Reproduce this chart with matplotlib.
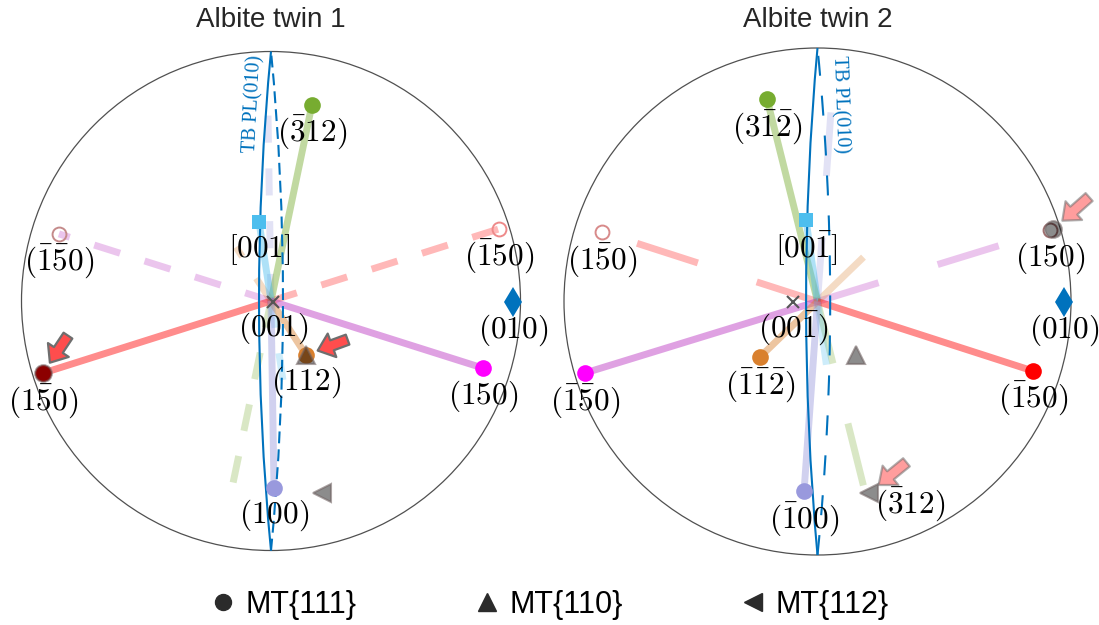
import matplotlib.pyplot as plt
import numpy as np
from matplotlib.lines import Line2D
from matplotlib.patches import Arc, Circle

plt.rcParams['mathtext.fontset'] = 'cm'
plt.rcParams['font.family'] = ['Liberation Sans', 'DejaVu Sans']

W, H = 1099, 625

# pole colours shared by both twins (same order as the pole lists)
pole_colors = ['#77ac30', '#4dbeee', '#ff0000', '#ff00ff', '#d9802e', '#9999dd']
trace_colors = ['#77ac30', '#4dbeee', '#ff0000', '#b830c0', '#d9802e', '#9999dd']
pole_markers = ['o', 's', 'o', 'o', 'o', 'o']

# ---- Albite twin 1 ----
t1_labels = [r'$(\bar{3}12)$', r'$[001]$', r'$(1\bar{5}0)$',
             r'$(150)$', r'$(112)$', r'$(100)$']
t1_x = [0.164, -0.048, -0.914, 0.850, 0.140, 0.012]
t1_y = [0.786, 0.317, -0.289, -0.269, -0.216, -0.749]
t1_anti_labels = [None, None, r'$(\bar{1}50)$', r'$(\bar{1}\bar{5}0)$', None, None]
t1_anti_colors = [None, None, '#ee8a8a', '#c48a8a', None, None]
t1_center = (0.008, -0.004)
t1_center_label = r'$(001)$'
t1_b = (0.970, -0.004)
t1_mt_x = [-0.914, 0.140, 0.204]
t1_mt_y = [-0.289, -0.216, -0.770]
t1_mt_kind = ['o', '^', '<']
t1_arrow_to = [0, 1]
t1_tb = (-0.048, 0.048)      # bulge of solid / dashed TB PL(010) trace

# ---- Albite twin 2 ----
t2_labels = [r'$(3\bar{1}\bar{2})$', r'$[00\bar{1}]$', r'$(\bar{1}50)$',
             r'$(\bar{1}\bar{5}0)$', r'$(\bar{1}\bar{1}\bar{2})$', r'$(\bar{1}00)$']
t2_x = [-0.199, -0.045, 0.850, -0.917, -0.227, -0.053]
t2_y = [0.798, 0.321, -0.274, -0.282, -0.219, -0.748]
t2_anti_labels = [r'$(\bar{3}12)$', None, r'$(1\bar{5}0)$', r'$(150)$', None, None]
t2_anti_colors = [None, None, '#d88a8a', '#a07070', None, None]
t2_center = (-0.097, -0.002)
t2_center_label = r'$(00\bar{1})$'
t2_b = (0.972, -0.002)
t2_mt_x = [0.929, 0.152, 0.203]
t2_mt_y = [0.286, -0.211, -0.755]
t2_mt_kind = ['o', '^', '<']
t2_arrow_to = [0, 2]
t2_tb = (-0.045, 0.050)

LW = 5.0
LABEL_FS = 22.5


def great_circle(ax, bulge, **kw):
    # circle through (0,1), (bulge,0), (0,-1)
    c = (bulge ** 2 - 1) / (2 * bulge)
    R = abs(c - bulge)
    half = np.degrees(np.arctan2(1, abs(c)))
    if c > 0:
        t1, t2 = 180 - half, 180 + half
    else:
        t1, t2 = -half, half
    ax.add_patch(Arc((c, 0), 2 * R, 2 * R, theta1=t1, theta2=t2, **kw))


def stereonet(cx, cy, r, title, labels, xs, ys, anti_labels, anti_colors, center,
              center_label, b010, mt_x, mt_y, mt_kind, arrow_to, tails, tb, tb_dash,
              line_dash, tb_label_pos, tb_rot, arrow_alpha, anti_offsets, title_y):
    L = 1.1
    ax = fig.add_axes([(cx - L * r) / W, (H - cy - L * r) / H, 2 * L * r / W, 2 * L * r / H])
    ax.set_xlim(-L, L)
    ax.set_ylim(-L, L)
    ax.axis('off')

    ax.add_patch(Circle((0, 0), 1, fill=False, ec='#505050', lw=0.9, zorder=1))
    ax.text(0, title_y, title, ha='center', va='center', fontsize=20, color='#262626')

    # TB PL(010) traces
    great_circle(ax, tb[0], ec='#0072bd', lw=1.5, zorder=3)
    great_circle(ax, tb[1], ec='#0072bd', lw=1.5, ls=(0, tb_dash), zorder=3)
    ax.text(tb_label_pos[0], tb_label_pos[1], 'TB PL(010)', rotation=tb_rot,
            rotation_mode='anchor', ha='center', va='center', color='#0072bd',
            fontsize=14.5, family='Liberation Serif')

    for i, (x, y) in enumerate(zip(xs, ys)):
        col = trace_colors[i]
        ax.plot([0, x], [0, y], color=col, lw=LW, alpha=0.45, solid_capstyle='butt', zorder=2)
        ax.plot([0, -x], [0, -y], color=col, lw=LW, alpha=0.28, ls=(0, line_dash),
                dash_capstyle='butt', zorder=1.9)
        ms = 9.5 if pole_markers[i] == 's' else 12
        ax.plot(x, y, pole_markers[i], color=pole_colors[i], ms=ms, mew=0, zorder=4)
        ax.annotate(labels[i], (x, y), xytext=(0, -20), textcoords='offset points',
                    ha='center', va='center', fontsize=LABEL_FS, zorder=6)
        if anti_colors[i]:
            ax.plot(-x, -y, 'o', mfc='none', mec=anti_colors[i], ms=10, mew=1.4, zorder=4)
        if anti_labels[i]:
            ax.annotate(anti_labels[i], (-x, -y), xytext=anti_offsets.get(i, (0, -20)),
                        textcoords='offset points', ha='center', va='center',
                        fontsize=LABEL_FS, zorder=6)

    ax.plot(*center, 'x', color='#555555', ms=8, mew=1.5, zorder=3.5)
    ax.annotate(center_label, center, xytext=(0, -19), textcoords='offset points',
                ha='center', va='center', fontsize=LABEL_FS, zorder=6)
    ax.plot(*b010, 'd', color='#0072bd', ms=15, mew=0, zorder=4)
    ax.annotate(r'$(010)$', b010, xytext=(0, -20), textcoords='offset points',
                ha='center', va='center', fontsize=LABEL_FS, zorder=6)

    for x, y, k in zip(mt_x, mt_y, mt_kind):
        ax.plot(x, y, k, mfc=(0, 0, 0, 0.45), mec=(0.45, 0.4, 0.4, 0.6), mew=1.5,
                ms=12 if k == 'o' else 13, zorder=5)

    for j, (dx, dy) in zip(arrow_to, tails):
        ax.annotate('', xy=(mt_x[j], mt_y[j]), xytext=(dx, dy), textcoords='offset points',
                    arrowprops=dict(arrowstyle='simple,head_length=0.55,head_width=0.9,tail_width=0.38',
                                    fc='#ff4d4d', ec='#6e6e6e', lw=1.6, alpha=arrow_alpha,
                                    shrinkA=0, shrinkB=9, mutation_scale=20),
                    zorder=7)
    return ax


fig = plt.figure(figsize=(W / 100, H / 100), dpi=100)

stereonet(271, 301, 249.5, 'Albite twin 1', t1_labels, t1_x, t1_y, t1_anti_labels,
          t1_anti_colors, t1_center, t1_center_label, t1_b, t1_mt_x, t1_mt_y, t1_mt_kind,
          t1_arrow_to, [(18, 27), (30, 11)], t1_tb, (5.7, 2.9), (3.9, 3.7),
          (-0.072, 0.79), 87, 1.0, {}, 1.125)

stereonet(817.5, 301.5, 253.5, 'Albite twin 2', t2_labels, t2_x, t2_y, t2_anti_labels,
          t2_anti_colors, t2_center, t2_center_label, t2_b, t2_mt_x, t2_mt_y, t2_mt_kind,
          t2_arrow_to, [(26, 23), (27, 22)], t2_tb, (9.6, 9.6), (9.2, 8.9),
          (0.089, 0.776), -88, 0.55, {0: (30, 0)}, 1.11)

handles = [Line2D([], [], ls='none', marker='o', ms=11.5, color='#2b2b2b'),
           Line2D([], [], ls='none', marker='^', ms=13, color='#2b2b2b'),
           Line2D([], [], ls='none', marker='<', ms=13, color='#2b2b2b')]
fig.legend(handles, ['MT{111}', 'MT{110}', 'MT{112}'], loc='center', ncol=3,
           bbox_to_anchor=(0.499, 1 - 605 / H), frameon=False, fontsize=22,
           handlelength=1.0, handletextpad=0.25, columnspacing=3.75)

fig.savefig('out.png', dpi=100)
